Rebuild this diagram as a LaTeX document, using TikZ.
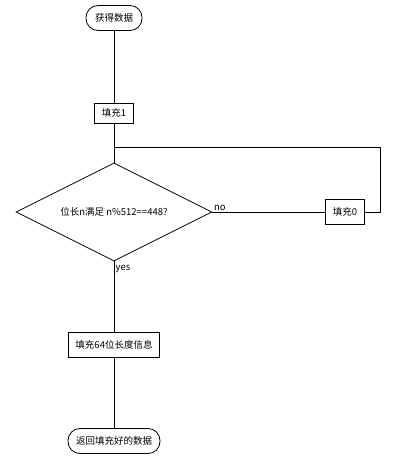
\documentclass[tikz,border=0pt]{standalone}
\usepackage{fontspec}
\setmainfont{Noto Sans CJK SC}
\usetikzlibrary{shapes.geometric}
\newcommand{\lw}{0.8pt}
\newcommand{\midx}{114}

\tikzset{
	base/.style = {draw, line width=\lw, font=\fontsize{9.5pt}{11pt}\selectfont, inner sep=0pt},
	term/.style = {base, rounded corners=12pt, minimum height=25pt},
	proc/.style = {base, inner xsep=7pt, minimum height=25pt},
	decide/.style = {base, diamond, aspect=2, minimum width=196pt, minimum height=98pt},
	lbl/.style = {font=\fontsize{9.5pt}{11pt}\selectfont, inner sep=1.5pt},
	link/.style = {line width=\lw}
}

\begin{document}
\begin{tikzpicture}[x=1pt,y=-1pt]
	\useasboundingbox (0,0) rectangle (420,458);
	%\draw[help lines, step=20] (0,0) grid (420,458);
	% column of steps
	\node[term, minimum width=56pt] (start) at (\midx,18) {获得数据};
	\node[proc, minimum height=20pt] (pad1) at (\midx,113) {填充1};
	\node[decide] (check) at (\midx,212) {位长n满足 n\%512==448?};
	\node[proc] (pad0) at (345,212) {填充0};
	\node[proc] (padlen) at (\midx,345) {填充64位长度信息};
	\node[term, minimum width=92pt] (done) at (\midx,441) {返回填充好的数据};
	% loop back
	\coordinate (join) at (\midx,147);
	\coordinate (loopr) at (380,212);
	\draw[link] (start) -- (pad1);
	\draw[link] (pad1) -- (check.north);
	\draw[link] (check.east) -- (pad0.west);
	\draw[link] (pad0.east) -- (loopr) |- (join);
	\draw[link] (check.south) -- (padlen);
	\draw[link] (padlen) -- (done);
	% branch labels
	\node[lbl, above right] (no) at (check.east) {no};
	\node[lbl, below right, yshift=-2pt] (yes) at (check.south) {yes};
\end{tikzpicture}
\end{document}
